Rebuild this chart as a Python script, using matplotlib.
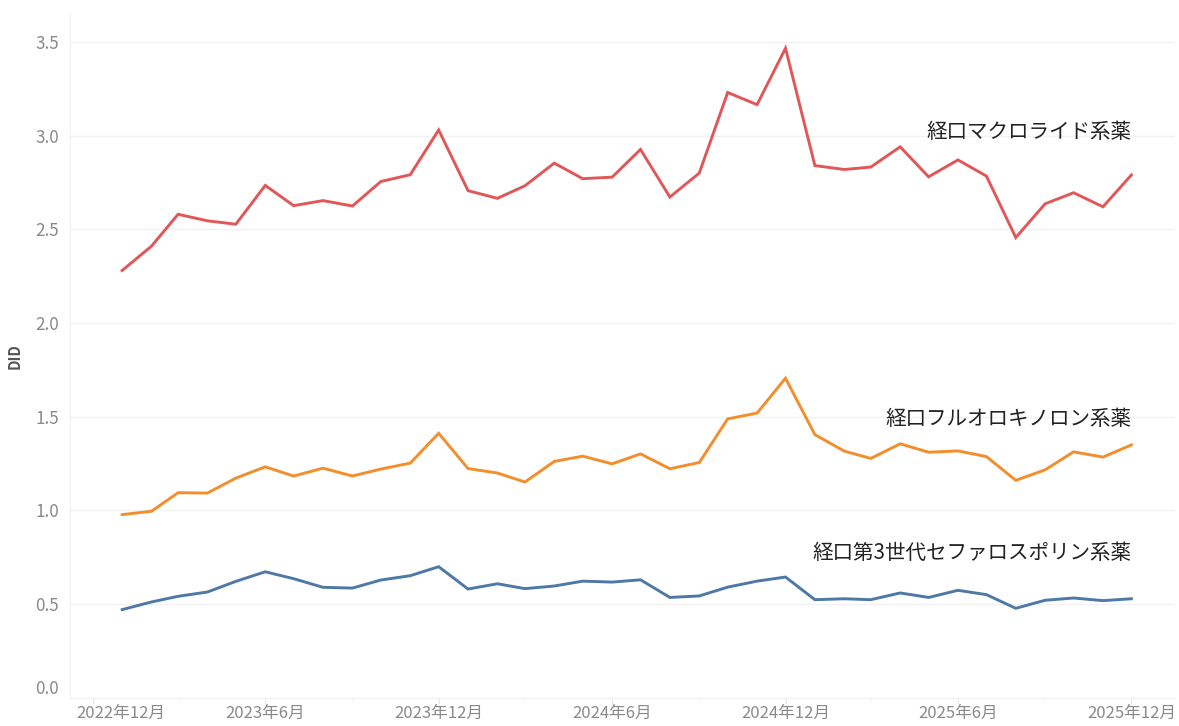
import numpy as np
import pandas as pd
import matplotlib
matplotlib.use("Agg")
import matplotlib.pyplot as plt
import matplotlib.dates as mdates
from matplotlib.transforms import ScaledTranslation

plt.rcParams['font.family'] = ['Noto Sans CJK JP', 'DejaVu Sans']

# monthly points, 2023-01 .. 2025-12
months = pd.date_range('2023-01-01', periods=36, freq='MS')

macrolide = [2.28, 2.41, 2.58, 2.545, 2.527, 2.734, 2.626, 2.653, 2.624, 2.755,
             2.791, 3.03, 2.706, 2.665, 2.732, 2.853, 2.77, 2.778, 2.926, 2.672,
             2.80, 3.23, 3.165, 3.466, 2.84, 2.819, 2.832, 2.94, 2.78, 2.87,
             2.784, 2.456, 2.636, 2.695, 2.62, 2.79]
quinolone = [0.977, 0.995, 1.094, 1.092, 1.172, 1.232, 1.183, 1.225, 1.183, 1.220,
             1.252, 1.411, 1.223, 1.199, 1.151, 1.261, 1.289, 1.248, 1.301, 1.222,
             1.255, 1.488, 1.519, 1.705, 1.404, 1.316, 1.277, 1.355, 1.310, 1.317,
             1.287, 1.160, 1.216, 1.312, 1.284, 1.349]
cephalo = [0.470, 0.511, 0.541, 0.564, 0.621, 0.672, 0.635, 0.589, 0.585, 0.628,
           0.651, 0.699, 0.580, 0.608, 0.582, 0.596, 0.622, 0.617, 0.629, 0.535,
           0.543, 0.590, 0.622, 0.644, 0.523, 0.528, 0.523, 0.559, 0.535, 0.573,
           0.550, 0.477, 0.520, 0.532, 0.518, 0.528]

series_names = ['経口マクロライド系薬', '経口フルオロキノロン系薬', '経口第3世代セファロスポリン系薬']
series_colors = ['#e15759', '#f28e2b', '#4e79a7']
label_y = [3.02, 1.49, 0.77]

tick_dates = pd.to_datetime(['2022-12-01', '2023-06-01', '2023-12-01', '2024-06-01',
                             '2024-12-01', '2025-06-01', '2025-12-01'])
tick_labels = [f'{d.year}年{d.month}月' for d in tick_dates]

fig = plt.figure(figsize=(11.79, 7.26), dpi=100)
ax = fig.add_axes([0.0594, 0.039, 0.9372, 0.942])

for vals, name, col, ly in zip([macrolide, quinolone, cephalo], series_names, series_colors, label_y):
    ax.plot(months, vals, color=col, lw=2.1, solid_joinstyle='miter')
    ax.text(months[-1], ly, name, ha='right', va='center', fontsize=14.8, color='#222222')

ax.set_ylim(0, 3.65)
ax.set_yticks(np.arange(0, 3.51, 0.5))
ax.set_yticklabels([f'{v:.1f}' for v in np.arange(0, 3.51, 0.5)])
ax.set_xlim(pd.Timestamp('2022-11-07'), pd.Timestamp('2026-01-16'))
ax.set_xticks(tick_dates)
ax.set_xticklabels(tick_labels)
ax.xaxis.set_minor_locator(mdates.MonthLocator(bymonth=[3, 9]))

ax.grid(axis='y', color='#f2f2f2', lw=1)
ax.set_axisbelow(True)
for s in ['top', 'right']:
    ax.spines[s].set_visible(False)
ax.spines['left'].set_color('#f0f0f0')
ax.spines['bottom'].set_color('#f0f0f0')
ax.tick_params(axis='y', length=0, pad=8, labelsize=12.3, labelcolor='#8a8a8a')
ax.tick_params(axis='x', which='major', length=4, color='#e6e6e6', pad=1, labelsize=12, labelcolor='#8a8a8a')
ax.tick_params(axis='x', which='minor', length=3, color='#f3f3f3')

ax.set_ylabel('DID', fontsize=10.5, fontweight='bold', color='#555555')
ax.yaxis.set_label_coords(-0.043, 0.5)

# Tableau-style nudges for the edge labels
xl = ax.get_xticklabels()[0]
xl.set_transform(xl.get_transform() + ScaledTranslation(0.28, 0, fig.dpi_scale_trans))
yl = ax.get_yticklabels()[0]
yl.set_verticalalignment('bottom')

fig.savefig('out.png', dpi=100)
